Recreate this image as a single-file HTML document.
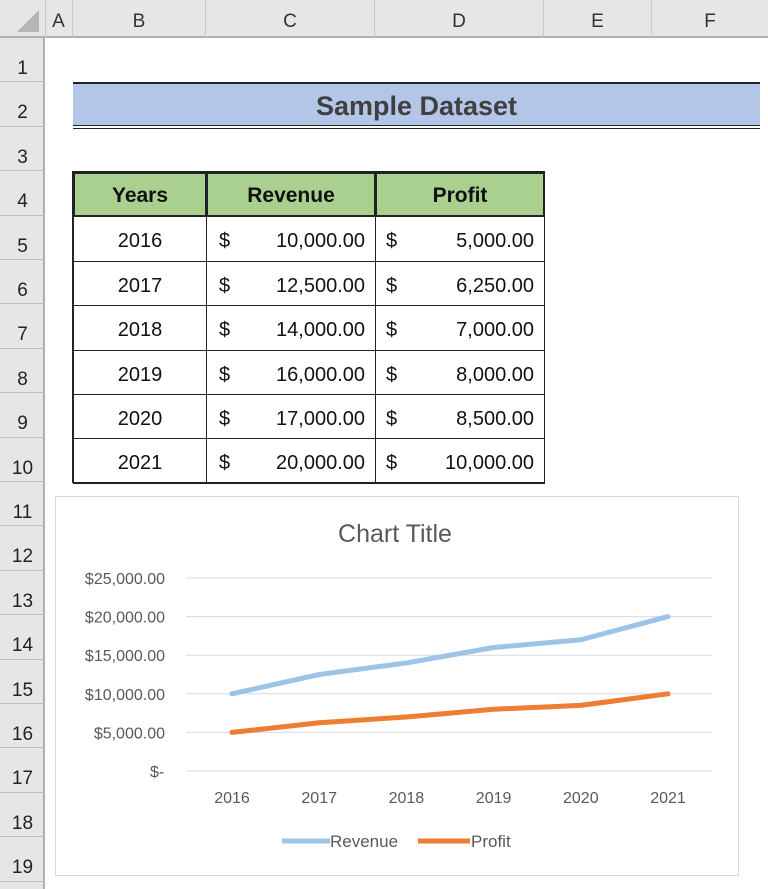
<!DOCTYPE html>
<html><head><meta charset="utf-8"><style>
html,body{margin:0;width:768px;height:889px;overflow:hidden}
body{background:#fff;font-family:"Liberation Sans",sans-serif;position:relative}
.abs{position:absolute}
.colh{position:absolute;top:0;height:38px;line-height:44px;text-align:center;font-size:19px;color:#333;border-right:1px solid #c8c8c8;box-sizing:border-box}
.rowh{position:absolute;left:0;width:45px;text-align:center;font-size:19px;color:#222;border-bottom:1px solid #bdbdbd;box-sizing:border-box;padding-top:21px;line-height:20px}
.cell{position:absolute;box-sizing:border-box;border:1px solid #222;font-size:20px;color:#111;line-height:20px;padding-top:14px}
</style></head><body>
<div class="abs" style="left:0;top:0;width:768px;height:38px;background:#e6e6e6;border-bottom:2px solid #b0b0b0;box-sizing:border-box"></div>
<div class="abs" style="left:0;top:0;width:45px;height:38px;border-right:1px solid #c8c8c8"><div style="position:absolute;right:6px;bottom:6px;width:0;height:0;border-left:22px solid transparent;border-bottom:22px solid #b5b5b5"></div></div>
<div class="colh" style="left:45px;width:28px">A</div>
<div class="colh" style="left:73px;width:133px">B</div>
<div class="colh" style="left:206px;width:169px">C</div>
<div class="colh" style="left:375px;width:169px">D</div>
<div class="colh" style="left:544px;width:108px">E</div>
<div class="colh" style="left:652px;width:116px;border-right:none">F</div>
<div class="abs" style="left:0;top:38px;width:45px;height:851px;background:#e6e6e6;border-right:2px solid #b0b0b0;box-sizing:border-box"></div>
<div id="rows"></div>
<script>
var r=document.getElementById('rows');
for(var i=1;i<=19;i++){var d=document.createElement('div');d.className='rowh';d.style.top=(38+(i-1)*44.4)+'px';d.style.height='44.4px';d.textContent=i;


r.appendChild(d);}
</script>
<div class="abs" style="left:73px;top:82px;width:687px;height:43px;background:#b4c6e7;border-top:2px solid #222;box-sizing:border-box;text-align:center;line-height:44px;font-weight:bold;font-size:27px;color:#404040">Sample Dataset</div>
<div class="abs" style="left:73px;top:125px;width:687px;height:2px;border-top:1.5px solid #222;border-bottom:1.5px solid #222"></div>
<div id="tbl"></div>
<script>
var yrs=['2016','2017','2018','2019','2020','2021'];
var rv=['10,000.00','12,500.00','14,000.00','16,000.00','17,000.00','20,000.00'];
var pf=['5,000.00','6,250.00','7,000.00','8,000.00','8,500.00','10,000.00'];
var tbl=document.getElementById('tbl');
var cx=[73,206,375,544];
function cell(c,row,html,extra){var d=document.createElement('div');d.className='cell';
var top=172+row*44.4;d.style.left=cx[c]+'px';d.style.top=top+'px';d.style.width=(cx[c+1]-cx[c]+1)+'px';d.style.height='45.4px';
d.innerHTML=html;if(extra)d.style.cssText+=extra;tbl.appendChild(d);return d;}
var hd=['Years','Revenue','Profit'];
for(var c=0;c<3;c++){var h=cell(c,0,hd[c],'background:#a9d08e;font-weight:bold;font-size:21px;text-align:center;border-width:2px;padding-top:12px');

}
for(var i=0;i<6;i++){
var a=cell(0,i+1,yrs[i],'text-align:center');


var b=cell(1,i+1,'<span style="float:left;padding-left:12px">$</span><span style="float:right;padding-right:10px">'+rv[i]+'</span>');


var p=cell(2,i+1,'<span style="float:left;padding-left:10px">$</span><span style="float:right;padding-right:10px">'+pf[i]+'</span>');

}
</script>
<div class="abs" style="left:72px;top:171px;width:473px;height:312px;border:1px solid #222;box-sizing:border-box;pointer-events:none"></div>
<svg class="abs" style="left:0;top:0" width="768" height="889" font-family="Liberation Sans, sans-serif">
<rect x="55.5" y="496.5" width="683" height="379" fill="#fff" stroke="#d9d9d9"/>
<text x="395" y="542" text-anchor="middle" font-size="25" fill="#595959">Chart Title</text>
<g id="g"></g>
<g>
<line x1="282" y1="841" x2="330" y2="841" stroke="#9dc3e6" stroke-width="5"/>
<text x="330" y="847" font-size="17" fill="#595959">Revenue</text>
<line x1="418" y1="841" x2="470" y2="841" stroke="#ed7d31" stroke-width="5"/>
<text x="471" y="847" font-size="17" fill="#595959">Profit</text>
</g>
</svg>
<script>
var categories=[2016,2017,2018,2019,2020,2021];
var revenue=[10000,12500,14000,16000,17000,20000];
var profit=[5000,6250,7000,8000,8500,10000];
var yTicks=[0,5000,10000,15000,20000,25000];
var yLabels=['$-','$5,000.00','$10,000.00','$15,000.00','$20,000.00','$25,000.00'];
var NS='http://www.w3.org/2000/svg',g=document.getElementById('g');
function X(i){return 232+i*87.2;}
function Y(v){return 771-v/25000*193;}
function el(t,a){var e=document.createElementNS(NS,t);for(var k in a)e.setAttribute(k,a[k]);g.appendChild(e);return e;}
yTicks.forEach(function(v,i){
var l=el('line',{x1:186,x2:712,y1:Y(v),y2:Y(v),stroke:'#d9d9d9','stroke-width':1});


var t=el('text',{x:i==0?150:165,y:Y(v)+6,'text-anchor':i==0?'start':'end','font-size':16,fill:'#595959'});t.textContent=yLabels[i];


});
categories.forEach(function(c,i){var t=el('text',{x:X(i),y:803,'text-anchor':'middle','font-size':16,fill:'#595959'});t.textContent=c;

});
function line(d,col,name){var p=el('polyline',{points:d.map(function(v,i){return X(i)+','+Y(v);}).join(' '),fill:'none',stroke:col,'stroke-width':5,'stroke-linecap':'round','stroke-linejoin':'round'});

}
line(revenue,'#9dc3e6','revenue-line');
line(profit,'#ed7d31','profit-line');
</script>
</body></html>
